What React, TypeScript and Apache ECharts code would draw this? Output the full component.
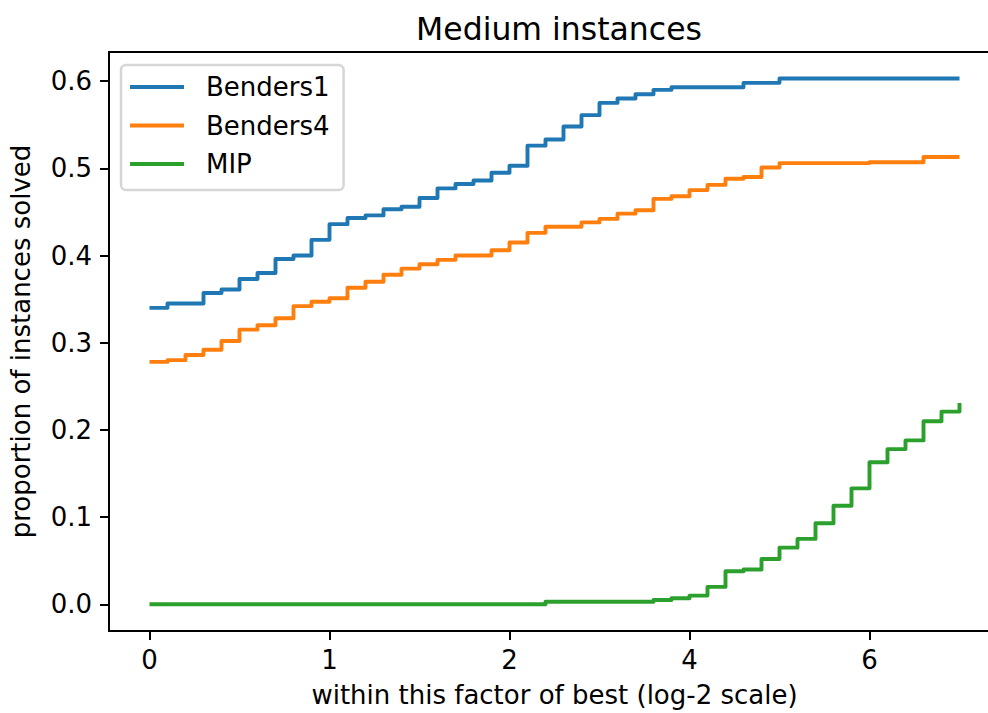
import React, { useEffect, useRef } from "react";
import * as echarts from "echarts";

// x positions are in the plot's own (position) units; tick labels map 0,1,2,3,4 -> 0,1,2,4,6
const xTickPositions = [0, 1, 2, 3, 4];
const xTickLabels = ["0", "1", "2", "4", "6"];
const yTickValues = [0, 0.1, 0.2, 0.3, 0.4, 0.5, 0.6];

const seriesNames = ["Benders1", "Benders4", "MIP"];

const benders1: [number, number][] = [
  [0.0, 0.34], [0.1, 0.345], [0.3, 0.357], [0.4, 0.361], [0.5, 0.373],
  [0.6, 0.38], [0.7, 0.396], [0.8, 0.4], [0.9, 0.418], [1.0, 0.436],
  [1.1, 0.443], [1.2, 0.446], [1.3, 0.453], [1.4, 0.456], [1.5, 0.466],
  [1.6, 0.477], [1.7, 0.482], [1.8, 0.486], [1.9, 0.495], [2.0, 0.503],
  [2.1, 0.526], [2.2, 0.533], [2.3, 0.548], [2.4, 0.561], [2.5, 0.575],
  [2.6, 0.58], [2.7, 0.585], [2.8, 0.59], [2.9, 0.593], [3.3, 0.598],
  [3.5, 0.603], [4.5, 0.603],
];

const benders4: [number, number][] = [
  [0.0, 0.278], [0.1, 0.28], [0.2, 0.286], [0.3, 0.292], [0.4, 0.302],
  [0.5, 0.315], [0.6, 0.32], [0.7, 0.328], [0.8, 0.342], [0.9, 0.347],
  [1.0, 0.351], [1.1, 0.363], [1.2, 0.37], [1.3, 0.378], [1.4, 0.385],
  [1.5, 0.39], [1.6, 0.395], [1.7, 0.4], [1.9, 0.406], [2.0, 0.415],
  [2.1, 0.426], [2.2, 0.433], [2.4, 0.438], [2.5, 0.442], [2.6, 0.448],
  [2.7, 0.452], [2.8, 0.465], [2.9, 0.468], [3.0, 0.475], [3.1, 0.481],
  [3.2, 0.488], [3.3, 0.49], [3.4, 0.501], [3.5, 0.506], [4.0, 0.507],
  [4.3, 0.513], [4.5, 0.513],
];

const mip: [number, number][] = [
  [0.0, 0.0], [2.2, 0.003], [2.8, 0.005], [2.9, 0.007], [3.0, 0.01],
  [3.1, 0.02], [3.2, 0.038], [3.3, 0.04], [3.4, 0.052], [3.5, 0.065],
  [3.6, 0.075], [3.7, 0.093], [3.8, 0.113], [3.9, 0.133], [4.0, 0.163],
  [4.1, 0.178], [4.2, 0.188], [4.3, 0.21], [4.4, 0.221], [4.5, 0.231],
];

const colors = ["#1f77b4", "#ff7f0e", "#2ca02c"];
const FONT = "DejaVu Sans";

export default function App() {
  const ref = useRef<HTMLDivElement>(null);

  useEffect(() => {
    if (!ref.current) return;
    const chart = echarts.init(ref.current, undefined, { renderer: "svg" });
    const allData = [benders1, benders4, mip];
    chart.setOption({
      animation: false,
      backgroundColor: "#ffffff",
      title: {
        text: "Medium instances",
        left: 554,
        top: 8,
        textAlign: "center",
        textStyle: { fontFamily: FONT, fontSize: 31.5, fontWeight: "normal", color: "#000" },
      },
      legend: {
        data: seriesNames,
        orient: "vertical",
        left: 121,
        top: 65,
        icon: "rect",
        itemWidth: 54,
        itemHeight: 4,
        itemGap: 12.5,
        padding: [9, 14, 13, 9],
        backgroundColor: "#ffffff",
        borderColor: "#d6d6d6",
        borderWidth: 2.5,
        borderRadius: 5,
        textStyle: {
          fontFamily: FONT,
          fontSize: 26,
          lineHeight: 26,
          color: "#000",
          padding: [0, 0, 0, 17],
        },
      },
      grid: {
        left: 108,
        top: 52,
        right: 0,
        bottom: 82,
        show: true,
        borderColor: "#000",
        borderWidth: 2,
        backgroundColor: "transparent",
      },
      xAxis: {
        type: "value",
        min: -0.225,
        max: 4.725,
        name: "within this factor of best (log-2 scale)",
        nameLocation: "middle",
        nameGap: 51,
        nameTextStyle: { fontFamily: FONT, fontSize: 26, color: "#000" },
        axisLine: { show: true, onZero: false, lineStyle: { color: "#000", width: 2 } },
        axisTick: {
          show: true,
          inside: false,
          length: 9,
          lineStyle: { color: "#000", width: 2 },
          customValues: xTickPositions,
        },
        axisLabel: {
          fontFamily: FONT,
          fontSize: 26,
          color: "#000",
          margin: 16,
          customValues: xTickPositions,
          formatter: (v: number) => {
            const i = xTickPositions.findIndex((p) => Math.abs(p - v) < 1e-9);
            return i >= 0 ? xTickLabels[i] : "";
          },
        },
        splitLine: { show: false },
      },
      yAxis: {
        type: "value",
        min: -0.0306,
        max: 0.6334,
        name: "proportion of instances solved",
        nameLocation: "middle",
        nameGap: 75,
        nameTextStyle: { fontFamily: FONT, fontSize: 26, color: "#000" },
        axisLine: { show: true, onZero: false, lineStyle: { color: "#000", width: 2 } },
        axisTick: {
          show: true,
          inside: false,
          length: 9,
          lineStyle: { color: "#000", width: 2 },
          customValues: yTickValues,
        },
        axisLabel: {
          fontFamily: FONT,
          fontSize: 26,
          color: "#000",
          margin: 17,
          customValues: yTickValues,
          formatter: (v: number) => v.toFixed(1),
        },
        splitLine: { show: false },
      },
      series: seriesNames.map((name, i) => ({
        name,
        type: "line",
        step: "end",
        data: allData[i],
        symbol: "none",
        showSymbol: false,
        color: colors[i],
        lineStyle: { color: colors[i], width: 3.9, join: "round", cap: "butt" },
        itemStyle: { color: colors[i] },
        z: 2 + i,
      })),
    });
    return () => chart.dispose();
  }, []);

  return (
    <div
      style={{
        position: "fixed",
        left: 0,
        top: 0,
        width: 988,
        height: 713,
        overflow: "hidden",
        background: "#fff",
      }}
    >
      <div ref={ref} style={{ width: 1000, height: 713 }} />
    </div>
  );
}
